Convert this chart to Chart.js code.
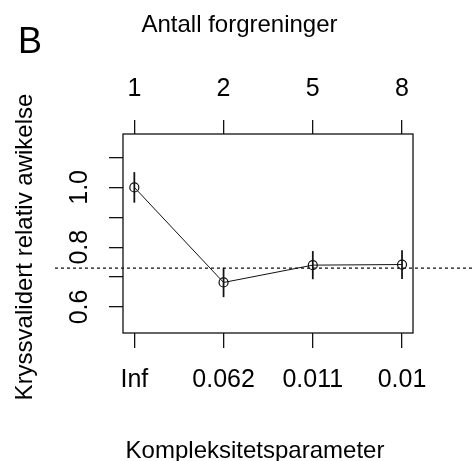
<!DOCTYPE html>
<html>
<head>
<meta charset="utf-8">
<script src="https://cdn.jsdelivr.net/npm/chart.js@4.4.1/dist/chart.umd.min.js"></script>
<style>
  html, body { margin: 0; padding: 0; background: #fff; }
  #wrap { width: 473px; height: 461px; }
</style>
</head>
<body>
<div id="wrap"><canvas id="cpPlot"></canvas></div>
<script>
// complexity parameter table
const cpLabels = [`Inf`, `0.062`, `0.011`, `0.01`];
const splitLabels = [`1`, `2`, `5`, `8`];
const xerror = [1.0, 0.682, 0.740, 0.742];
const xstd = [0.050, 0.048, 0.046, 0.047];
const yTicks = [0.6, 0.7, 0.8, 0.9, 1.0, 1.1];
const yLabelled = [0.6, 0.8, 1.0];

const FONT = `"Liberation Sans", Arial, sans-serif`;
Chart.defaults.font.family = FONT;
Chart.defaults.color = `#000`;

const xPos = cpLabels.map((_, i) => i + 1);
// 1-SE rule: lowest xerror + its std
const cutoff = Math.min(...xerror.map((v, i) => v + xstd[i]));

const errBars = xPos.map((x, i) => ({ x, y: [xerror[i] - xstd[i], xerror[i] + xstd[i]] }));
const errPoints = xPos.map((x, i) => ({ x, y: xerror[i] }));

const tickGrid = (len) => ({
  display: true,
  offset: false,
  drawOnChartArea: false,
  drawTicks: true,
  tickLength: len,
  color: `#111`,
  lineWidth: 1.3,
});

const frameAndText = {
  id: `frameAndText`,
  afterDraw(chart) {
    const { ctx, chartArea: a, scales } = chart;
    ctx.save();
    ctx.strokeStyle = `#111`;
    ctx.lineWidth = 1.3;
    ctx.strokeRect(a.left, a.top, a.right - a.left, a.bottom - a.top);

    const yLine = scales.y.getPixelForValue(cutoff);
    ctx.setLineDash([3, 3]);
    ctx.beginPath();
    ctx.moveTo(55, yLine);
    ctx.lineTo(chart.width, yLine);
    ctx.stroke();
    ctx.setLineDash([]);

    ctx.fillStyle = `#000`;
    ctx.textBaseline = `alphabetic`;
    ctx.textAlign = `left`;
    ctx.font = `36px ${FONT}`;
    ctx.fillText(`B`, 18, 53);

    ctx.textAlign = `center`;
    ctx.font = `24px ${FONT}`;
    ctx.fillText(`Antall forgreninger`, 239.5, 31.5);
    ctx.fillText(`Kompleksitetsparameter`, 255, 458);

    ctx.translate(31.5, 247);
    ctx.rotate(-Math.PI / 2);
    ctx.fillText(`Kryssvalidert relativ awikelse`, 0, 0);
    ctx.restore();
  }
};

const ctx = document.getElementById(`cpPlot`).getContext(`2d`);
new Chart(ctx, {
  type: `line`,
  data: {
    datasets: [
      {
        type: `bar`,
        data: errBars,
        backgroundColor: `#111`,
        borderWidth: 0,
        barThickness: 1.1,
        xAxisID: `x`,
        yAxisID: `y`,
      },
      {
        type: `line`,
        data: errPoints,
        borderColor: `#111`,
        borderWidth: 1,
        pointRadius: 4.5,
        pointBorderWidth: 1.2,
        pointBorderColor: `#111`,
        pointBackgroundColor: `rgba(0,0,0,0)`,
        tension: 0,
        fill: false,
        xAxisID: `x`,
        yAxisID: `y`,
      },
    ],
  },
  options: {
    responsive: true,
    maintainAspectRatio: false,
    animation: false,
    layout: { padding: { left: 0, top: 0, right: 60, bottom: 0 } },
    plugins: {
      legend: { display: false },
      tooltip: { enabled: false },
    },
    scales: {
      x: {
        type: `linear`,
        position: `bottom`,
        min: 0.873,
        max: 4.123,
        offset: false,
        afterBuildTicks: (s) => { s.ticks = xPos.map((v) => ({ value: v })); },
        afterFit: (s) => { s.height = 128; },
        grid: tickGrid(15),
        border: { display: false },
        ticks: {
          font: { size: 25 },
          padding: 17,
          maxRotation: 0,
          autoSkip: false,
          callback: (v) => cpLabels[v - 1],
        },
      },
      xTop: {
        type: `linear`,
        position: `top`,
        display: true,
        min: 0.873,
        max: 4.123,
        offset: false,
        afterBuildTicks: (s) => { s.ticks = xPos.map((v) => ({ value: v })); },
        afterFit: (s) => { s.height = 134; },
        grid: tickGrid(14),
        border: { display: false },
        ticks: {
          font: { size: 25 },
          padding: 16,
          maxRotation: 0,
          autoSkip: false,
          callback: (v) => splitLabels[v - 1],
        },
      },
      y: {
        type: `linear`,
        position: `left`,
        min: 0.513,
        max: 1.1786,
        afterBuildTicks: (s) => { s.ticks = yTicks.map((v) => ({ value: v })); },
        afterFit: (s) => { s.width = 123; },
        grid: tickGrid(14),
        border: { display: false },
        ticks: {
          font: { size: 25 },
          padding: 12,
          minRotation: 90,
          maxRotation: 90,
          crossAlign: `center`,
          autoSkip: false,
          callback: (v) => yLabelled.some((l) => Math.abs(l - v) < 1e-6) ? v.toFixed(1) : ``,
        },
      },
    },
  },
  plugins: [frameAndText],
});
</script>
</body>
</html>
